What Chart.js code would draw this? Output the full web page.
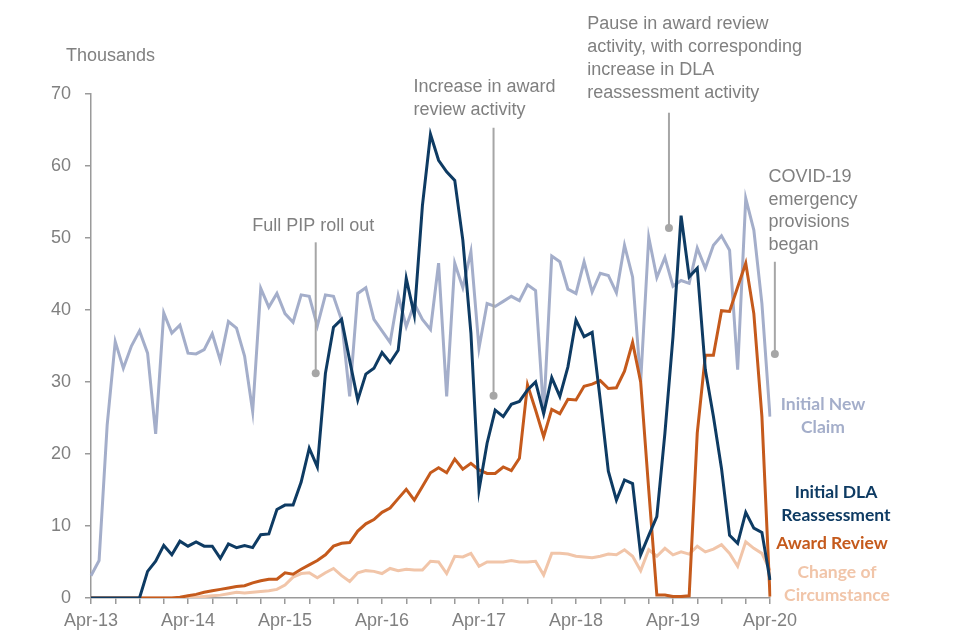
<!DOCTYPE html>
<html>
<head>
<meta charset="utf-8">
<script src="https://cdn.jsdelivr.net/npm/chart.js@4.4.1/dist/chart.umd.min.js"></script>
<style>
  html, body { margin: 0; padding: 0; background: #fff; }
  #wrap { width: 960px; height: 640px; }
</style>
</head>
<body>
<div id="wrap"><canvas id="pip-chart" width="960" height="640"></canvas></div>
<script>
// monthly registrations, thousands
const months = [
  "Apr-13","May-13","Jun-13","Jul-13","Aug-13","Sep-13","Oct-13","Nov-13","Dec-13","Jan-14","Feb-14","Mar-14",
  "Apr-14","May-14","Jun-14","Jul-14","Aug-14","Sep-14","Oct-14","Nov-14","Dec-14","Jan-15","Feb-15","Mar-15",
  "Apr-15","May-15","Jun-15","Jul-15","Aug-15","Sep-15","Oct-15","Nov-15","Dec-15","Jan-16","Feb-16","Mar-16",
  "Apr-16","May-16","Jun-16","Jul-16","Aug-16","Sep-16","Oct-16","Nov-16","Dec-16","Jan-17","Feb-17","Mar-17",
  "Apr-17","May-17","Jun-17","Jul-17","Aug-17","Sep-17","Oct-17","Nov-17","Dec-17","Jan-18","Feb-18","Mar-18",
  "Apr-18","May-18","Jun-18","Jul-18","Aug-18","Sep-18","Oct-18","Nov-18","Dec-18","Jan-19","Feb-19","Mar-19",
  "Apr-19","May-19","Jun-19","Jul-19","Aug-19","Sep-19","Oct-19","Nov-19","Dec-19","Jan-20","Feb-20","Mar-20",
  "Apr-20"
];

const newClaim = [
  3.1, 5.2, 24, 35.6, 31.9, 35, 37.1, 34, 22.8, 39.6, 36.8, 37.9,
  34, 33.9, 34.5, 36.7, 33, 38.4, 37.5, 33.6, 25.9, 43, 40.4, 42.3,
  39.5, 38.3, 42.1, 41.9, 37.8, 42.1, 41.9, 38.6, 28, 42.3, 43.1, 38.7,
  37.1, 35.5, 42, 37.7, 40.9, 38.7, 37.3, 46.5, 28, 46.5, 43.1, 48.1,
  34.7, 40.9, 40.5, 41.2, 41.9, 41.3, 43.5, 42.7, 25.6, 47.5, 46.7, 42.9,
  42.3, 46.7, 42.5, 45.1, 44.8, 42.4, 49, 44.6, 30, 50.1, 44.5, 47.3,
  43.3, 44.1, 43.7, 48.6, 45.8, 49, 50.3, 48.3, 31.7, 55.5, 51.1, 40.9,
  25.2
];

const dlaReassess = [
  0, 0, 0, 0, 0, 0, 0, 3.7, 5.1, 7.3, 6.0, 7.9,
  7.2, 7.8, 7.2, 7.2, 5.5, 7.5, 7.0, 7.3, 7.0, 8.8, 8.9, 12.3,
  12.9, 12.9, 16.1, 20.8, 18.2, 31.2, 37.6, 38.7, 33, 27.5, 31.1, 31.9,
  34.1, 32.7, 34.4, 44.4, 39.3, 54.5, 64.4, 60.8, 59.2, 58, 49.7, 36.8,
  15, 21.5, 26.1, 25.2, 26.9, 27.3, 28.9, 30, 25.6, 30.6, 28, 32.1,
  38.6, 36.3, 36.9, 27.5, 17.6, 13.6, 16.4, 15.9, 6, 8.7, 11.3, 22.9,
  36.3, 53.1, 44.6, 45.8, 31.7, 25.2, 18, 8.7, 7.6, 11.9, 9.7, 9.1,
  2.5
];

const awardReview = [
  0, 0, 0, 0, 0, 0, 0, 0, 0, 0, 0, 0.1,
  0.3, 0.5, 0.8, 1.0, 1.2, 1.4, 1.6, 1.7, 2.1, 2.4, 2.6, 2.6,
  3.5, 3.3, 4.0, 4.6, 5.2, 6.0, 7.2, 7.6, 7.7, 9.3, 10.3, 10.9,
  11.9, 12.5, 13.8, 15.1, 13.6, 15.5, 17.4, 18.1, 17.4, 19.3, 17.9, 18.7,
  17.8, 17.3, 17.3, 18.2, 17.7, 19.4, 29.6, 26.1, 22.4, 26.2, 25.6, 27.6,
  27.5, 29.4, 29.7, 30.2, 29.1, 29.2, 31.5, 35.5, 30, 15, 0.4, 0.4,
  0.2, 0.2, 0.3, 22.9, 33.7, 33.7, 39.9, 39.8, 43.2, 46.5, 39.5, 25.2,
  0.2
];

const changeCirc = [
  0, 0, 0, 0, 0, 0, 0, 0, 0, 0, 0, 0,
  0, 0.1, 0.2, 0.3, 0.4, 0.6, 0.8, 0.7, 0.8, 0.9, 1.0, 1.2,
  1.8, 2.9, 3.4, 3.5, 2.8, 3.5, 4.1, 3.1, 2.3, 3.5, 3.8, 3.7,
  3.4, 4.1, 3.8, 4.0, 3.9, 3.9, 5.1, 5.0, 3.4, 5.8, 5.7, 6.2,
  4.4, 5.0, 5.0, 5.0, 5.2, 5.0, 5.0, 5.1, 3.2, 6.2, 6.2, 6.1,
  5.8, 5.7, 5.6, 5.8, 6.1, 6.0, 6.7, 5.8, 3.8, 6.7, 5.8, 6.9,
  6.0, 6.4, 6.1, 7.2, 6.4, 6.8, 7.4, 6.2, 4.4, 7.8, 6.9, 6.2,
  3.8
];

const yTicks = [0, 10, 20, 30, 40, 50, 60, 70];

const textGrey = "#808080";
const noteGrey = "#a6a6a6";
const colNew = "#a4aeca";
const colDla = "#0e3b63";
const colAward = "#c55a1c";
const colCirc = "#f1c5a9";

// callouts, placed in data units (x = month index, y = thousands)
const notes = [
  { x: 27.8, top: 49.4, dot: 31.2, tx: 27.5, ty: 51.7, align: "center",
    lines: ["Full PIP roll out"] },
  { x: 49.8, top: 65.3, dot: 28.1, tx: 39.9, ty: 70.9, align: "left",
    lines: ["Increase in award", "review activity"] },
  { x: 71.5, top: 67.4, dot: 51.4, tx: 61.4, ty: 79.7, align: "left",
    lines: ["Pause in award review", "activity, with corresponding", "increase in DLA", "reassessment activity"] },
  { x: 84.6, top: 46.7, dot: 33.9, tx: 83.8, ty: 58.5, align: "left",
    lines: ["COVID-19", "emergency", "provisions", "began"] }
];

const endLabels = [
  { lines: ["Initial New", "Claim"], color: colNew, dx: 53, y: 26.9 },
  { lines: ["Initial DLA", "Reassessment"], color: colDla, dx: 66, y: 14.7 },
  { lines: ["Award Review"], color: colAward, dx: 62, y: 7.6 },
  { lines: ["Change of", "Circumstance"], color: colCirc, dx: 67, y: 3.5 }
];

const annotate = {
  id: "annotate",
  afterDatasetsDraw(chart) {
    const { ctx, chartArea, scales } = chart;
    const x = scales.x, y = scales.y;
    ctx.save();

    ctx.fillStyle = textGrey;
    ctx.font = "18px 'Liberation Sans', Arial, sans-serif";
    ctx.textBaseline = "middle";
    ctx.textAlign = "left";
    ctx.fillText("Thousands", chartArea.left - 25, chartArea.top - 38);

    notes.forEach((n) => {
      const px = x.getPixelForValue(n.x);
      ctx.strokeStyle = noteGrey;
      ctx.lineWidth = 2;
      ctx.beginPath();
      ctx.moveTo(px, y.getPixelForValue(n.top));
      ctx.lineTo(px, y.getPixelForValue(n.dot));
      ctx.stroke();
      ctx.fillStyle = noteGrey;
      ctx.beginPath();
      ctx.arc(px, y.getPixelForValue(n.dot), 4, 0, Math.PI * 2);
      ctx.fill();

      ctx.fillStyle = textGrey;
      ctx.textAlign = n.align;
      const tx = x.getPixelForValue(n.tx);
      const ty = y.getPixelForValue(n.ty);
      n.lines.forEach((t, i) => ctx.fillText(t, tx, ty + i * 22.8));
    });

    ctx.font = "bold 17.5px Lato, 'Open Sans', sans-serif";
    ctx.textAlign = "center";
    endLabels.forEach((l) => {
      ctx.fillStyle = l.color;
      const lx = chartArea.right + l.dx;
      const ly = y.getPixelForValue(l.y);
      l.lines.forEach((t, i) => ctx.fillText(t, lx, ly + i * 23));
    });

    ctx.restore();
  }
};

const line = (label, data, color) => ({
  label: label,
  data: data,
  borderColor: color,
  backgroundColor: color,
  borderWidth: 3,
  pointRadius: 0,
  tension: 0,
  fill: false
});

const ctx = document.getElementById("pip-chart");

new Chart(ctx, {
  type: "line",
  data: {
    labels: months,
    datasets: [
      line("Initial DLA Reassessment", dlaReassess, colDla),
      line("Award Review", awardReview, colAward),
      line("Initial New Claim", newClaim, colNew),
      line("Change of Circumstance", changeCirc, colCirc)
    ]
  },
  options: {
    responsive: false,
    animation: false,
    layout: { padding: { top: 94, right: 190, left: 0, bottom: 0 } },
    plugins: {
      legend: { display: false },
      tooltip: { enabled: false }
    },
    scales: {
      x: {
        type: "category",
        offset: false,
        border: { display: true, color: "#9a9a9a", width: 1.5 },
        grid: {
          drawOnChartArea: false,
          drawTicks: true,
          tickLength: 6,
          lineWidth: 1.5,
          color: (c) => (c.index % 3 === 0 ? "#9a9a9a" : "rgba(0,0,0,0)")
        },
        ticks: {
          autoSkip: false,
          maxRotation: 0,
          minRotation: 0,
          padding: 6,
          color: textGrey,
          font: { family: "'Liberation Sans', Arial, sans-serif", size: 18 },
          callback: function (v, i) {
            return i % 12 === 0 ? months[i] : "";
          }
        },
        afterFit: (s) => { s.height = 42; }
      },
      y: {
        min: yTicks[0],
        max: yTicks[yTicks.length - 1],
        afterBuildTicks: (s) => { s.ticks = yTicks.map((v) => ({ value: v })); },
        border: { display: true, color: "#9a9a9a", width: 1.5 },
        grid: {
          drawOnChartArea: false,
          drawTicks: true,
          tickLength: 6,
          lineWidth: 1.5,
          color: "#9a9a9a"
        },
        ticks: {
          padding: 14,
          color: textGrey,
          font: { family: "'Liberation Sans', Arial, sans-serif", size: 18 }
        },
        afterFit: (s) => { s.width = 91; }
      }
    }
  },
  plugins: [annotate]
});
</script>
</body>
</html>
